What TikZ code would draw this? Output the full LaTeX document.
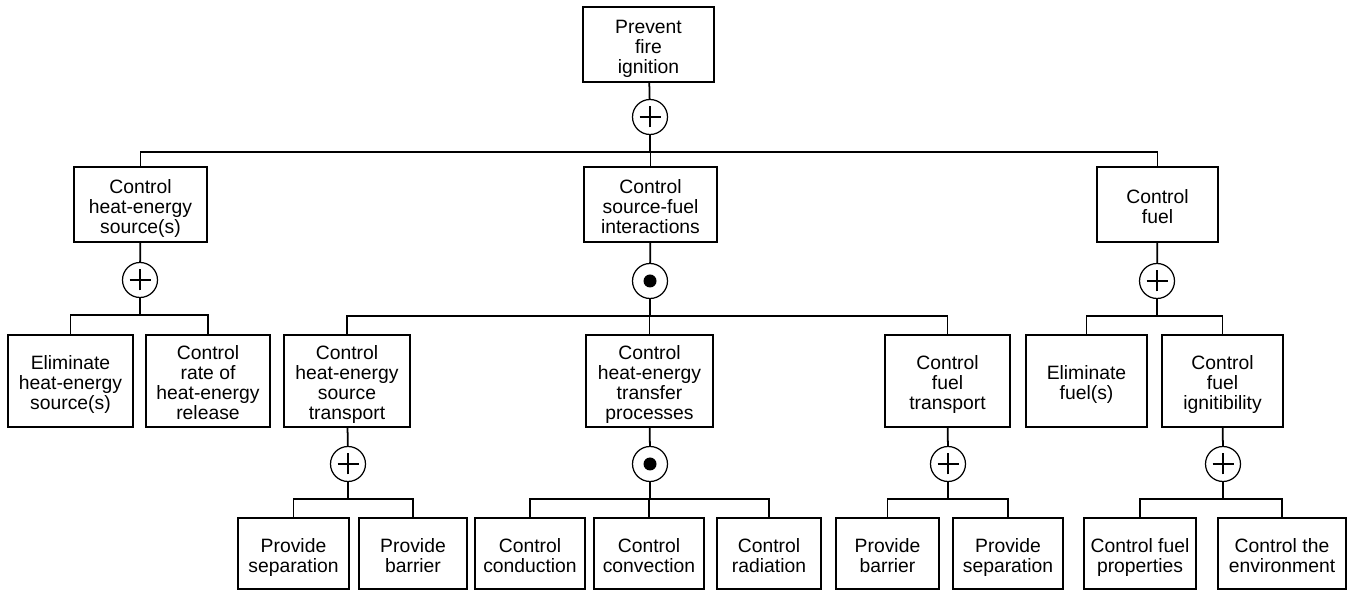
\documentclass[tikz,border=0pt]{standalone}
\usepackage{fontspec}
\setmainfont{Liberation Sans}
\usetikzlibrary{positioning,calc}

% lines of a goal box, first line a little lower
\newcommand{\gtext}[1]{\begin{tabular}{@{}c@{}}\rule{0pt}{13.5pt}#1\strut\end{tabular}}

\tikzset{
  goal/.style={draw, line width=0.7pt, inner sep=0pt,
    font=\fontsize{11}{11.4}\selectfont},
  gate/.style={draw, circle, line width=0.7pt, minimum size=0.7cm, inner sep=0pt},
  orgate/.style={gate, path picture={
    \draw[line width=1.1pt] ([xshift=-0.21cm]path picture bounding box.center) -- ([xshift=0.21cm]path picture bounding box.center)
      ([yshift=-0.21cm]path picture bounding box.center) -- ([yshift=0.21cm]path picture bounding box.center);}},
  andgate/.style={gate, path picture={
    \fill (path picture bounding box.center) circle (0.13cm);}},
  link/.style={line width=1pt}
}

\begin{document}
\begin{tikzpicture}[x=0.02cm,y=-0.02cm]
    \useasboundingbox (0,0) rectangle (1349,590);

    % Top
    \node[goal, minimum width=2.62cm, minimum height=1.5cm] (prevent) at (648.5,44.5) {\gtext{Prevent\\fire\\ignition}};
    \node[orgate] (g0) at (650,117) {};
    \draw[link] (prevent) -- (g0);
    \draw[link] (g0.south) -- ++(0,17) coordinate (b0);

    % Level 2
    \node[goal, minimum width=2.66cm, minimum height=1.5cm] (heatsrc) at (140.5,204.5) {\gtext{Control\\heat-energy\\source(s)}};
    \node[goal, minimum width=2.66cm, minimum height=1.5cm] (interact) at (650.5,204.5) {\gtext{Control\\source-fuel\\interactions}};
    \node[goal, minimum width=2.42cm, minimum height=1.5cm] (fuel) at (1157.5,204.5) {\gtext{Control\\fuel}};
    \foreach \c in {heatsrc,interact,fuel} \draw[link] (b0) -| (\c.north);

    \node[orgate] (gA) at (140,280) {};
    \node[andgate] (gB) at (650,281) {};
    \node[orgate] (gC) at (1157,281) {};
    \draw[link] (heatsrc) -- (gA); \draw[link] (interact) -- (gB); \draw[link] (fuel) -- (gC);
    \draw[link] (gA.south) -- ++(0,17) coordinate (bA);
    \draw[link] (gB.south) -- ++(0,17) coordinate (bB);
    \draw[link] (gC.south) -- ++(0,17) coordinate (bC);

    % Level 3
    \node[goal, minimum width=2.5cm, minimum height=1.84cm] (elimsrc) at (70.5,381) {\gtext{Eliminate\\heat-energy\\source(s)}};
    \node[goal, minimum width=2.48cm, minimum height=1.84cm] (rate) at (208,381) {\gtext{Control\\rate of\\heat-energy\\release}};
    \node[goal, minimum width=2.52cm, minimum height=1.84cm] (srctrans) at (347,381) {\gtext{Control\\heat-energy\\source\\transport}};
    \node[goal, minimum width=2.54cm, minimum height=1.84cm] (transfer) at (649.5,381) {\gtext{Control\\heat-energy\\transfer\\processes}};
    \node[goal, minimum width=2.5cm, minimum height=1.84cm] (fueltrans) at (947.5,381) {\gtext{Control\\fuel\\transport}};
    \node[goal, minimum width=2.42cm, minimum height=1.84cm] (elimfuel) at (1086.5,381) {\gtext{Eliminate\\fuel(s)}};
    \node[goal, minimum width=2.42cm, minimum height=1.84cm] (ignit) at (1222.5,381) {\gtext{Control\\fuel\\ignitibility}};
    \foreach \c in {elimsrc,rate} \draw[link] (bA) -| (\c.north);
    \foreach \c in {srctrans,transfer,fueltrans} \draw[link] (bB) -| (\c.north);
    \foreach \c in {elimfuel,ignit} \draw[link] (bC) -| (\c.north);

    \node[orgate] (gB1) at (348,464) {};
    \node[andgate] (gB2) at (650,464) {};
    \node[orgate] (gB3) at (948,464) {};
    \node[orgate] (gC2) at (1223,464) {};
    \draw[link] (srctrans) -- (gB1); \draw[link] (transfer) -- (gB2);
    \draw[link] (fueltrans) -- (gB3); \draw[link] (ignit) -- (gC2);
    \foreach \g in {B1,B2,B3,C2} \draw[link] (g\g.south) -- ++(0,17) coordinate (b\g);

    % Level 4
    \node[goal, minimum width=2.22cm, minimum height=1.42cm] (sep1) at (293.5,553.5) {\gtext{Provide\\separation}};
    \node[goal, minimum width=2.16cm, minimum height=1.42cm] (bar1) at (413,553.5) {\gtext{Provide\\barrier}};
    \node[goal, minimum width=2.2cm, minimum height=1.42cm] (cond) at (530,553.5) {\gtext{Control\\conduction}};
    \node[goal, minimum width=2.2cm, minimum height=1.42cm] (conv) at (649,553.5) {\gtext{Control\\convection}};
    \node[goal, minimum width=2.08cm, minimum height=1.42cm] (rad) at (769,553.5) {\gtext{Control\\radiation}};
    \node[goal, minimum width=2.06cm, minimum height=1.42cm] (bar2) at (887.5,553.5) {\gtext{Provide\\barrier}};
    \node[goal, minimum width=2.2cm, minimum height=1.42cm] (sep2) at (1008,553.5) {\gtext{Provide\\separation}};
    \node[goal, minimum width=2.24cm, minimum height=1.42cm] (props) at (1140,553.5) {\gtext{Control fuel\\properties}};
    \node[goal, minimum width=2.56cm, minimum height=1.42cm] (env) at (1282,553.5) {\gtext{Control the\\environment}};
    \foreach \c in {sep1,bar1} \draw[link] (bB1) -| (\c.north);
    \foreach \c in {cond,conv,rad} \draw[link] (bB2) -| (\c.north);
    \foreach \c in {bar2,sep2} \draw[link] (bB3) -| (\c.north);
    \foreach \c in {props,env} \draw[link] (bC2) -| (\c.north);
\end{tikzpicture}
\end{document}
